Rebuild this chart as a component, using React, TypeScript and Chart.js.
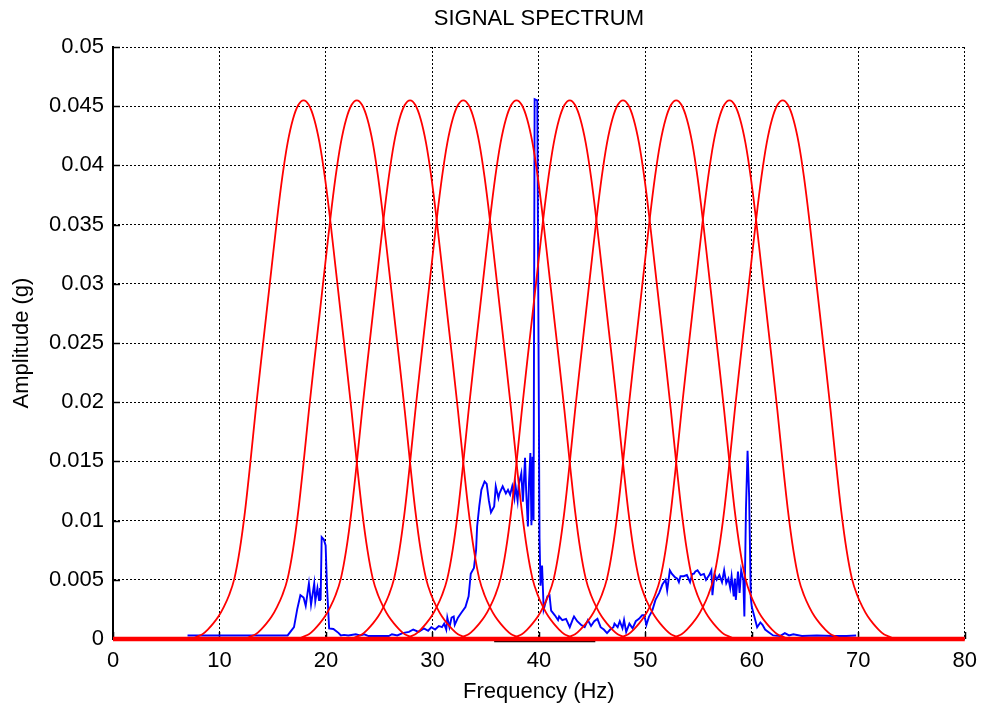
import React, { useEffect, useRef } from "react";
import { Chart, registerables } from "chart.js";

Chart.register(...registerables);

const TITLE = "SIGNAL SPECTRUM";
const X_LABEL = "Frequency (Hz)";
const Y_LABEL = "Amplitude (g)";

const X_TICK_LABELS = ["0", "10", "20", "30", "40", "50", "60", "70", "80"];
const Y_TICK_LABELS = ["0", "0.005", "0.01", "0.015", "0.02", "0.025", "0.03", "0.035", "0.04", "0.045", "0.05"];

// Filter bank (red): centre frequencies, and the bell shape (offset from centre, amplitude)
const FILTER_CENTERS = [17.9, 22.9, 27.9, 32.9, 37.9, 42.9, 47.9, 52.9, 57.9, 62.9];
const FILTER_OFFSETS = [0, 0.5, 1.0, 1.5, 2.0, 2.5, 3.0, 3.5, 4.0, 4.5, 5.0, 5.5, 6.0, 6.5, 7.0, 7.5, 8.0, 8.5, 9.0, 9.5, 10.0, 10.5];
const FILTER_AMPS = [0.0455, 0.0451, 0.0439, 0.0419, 0.039, 0.0354, 0.0314, 0.0274, 0.0234, 0.0193, 0.0149, 0.0108, 0.0075, 0.0051, 0.0037, 0.0027, 0.0019, 0.0013, 0.0008, 0.0004, 0.0002, 0];

// Signal spectrum (blue)
const SIGNAL_FREQ = [
  7.0, 16.4, 17.0, 17.3, 17.6, 17.9, 18.1, 18.4, 18.6, 18.9, 19.0, 19.2, 19.35, 19.44, 19.5, 19.6, 19.8, 19.97, 20.1, 20.3,
  20.7, 21.2, 21.4, 21.7, 22.1, 22.8, 23.2, 23.6, 24.0, 25.9, 26.2, 26.7, 27.2, 27.8, 28.2, 28.7, 29.2, 29.6, 29.9, 30.25,
  30.6, 30.9, 31.1, 31.3, 31.4, 31.6, 31.8, 32.0, 32.1, 32.4, 32.7, 33.1, 33.4, 33.6, 33.9, 34.1, 34.2, 34.4, 34.6, 34.9,
  35.1, 35.3, 35.5, 35.8, 35.95, 36.2, 36.3, 36.6, 36.9, 37.1, 37.3, 37.5, 37.7, 37.8, 38.0, 38.1, 38.35, 38.5, 38.7, 38.8,
  38.97, 39.07, 39.2, 39.3, 39.4, 39.5, 39.6, 39.85, 40.06, 40.15, 40.3, 40.45, 40.6, 40.8, 41.0, 41.15, 41.5, 41.8, 41.9, 42.2,
  42.55, 42.9, 43.2, 43.3, 43.6, 43.95, 44.3, 44.6, 44.9, 45.2, 45.5, 45.8, 46.1, 46.4, 46.7, 47.0, 47.1, 47.4, 47.6, 47.85,
  48.0, 48.2, 48.5, 48.8, 49.1, 49.4, 49.7, 49.9, 50.1, 50.35, 50.65, 50.95, 51.3, 51.6, 51.9, 52.05, 52.3, 52.5, 52.8, 53.0,
  53.15, 53.3, 53.6, 53.9, 54.2, 54.4, 54.55, 54.7, 54.9, 55.2, 55.5, 55.7, 56.0, 56.2, 56.3, 56.5, 56.7, 56.95, 57.2, 57.4,
  57.6, 57.8, 57.97, 58.1, 58.3, 58.4, 58.5, 58.7, 58.85, 59.0, 59.2, 59.3, 59.45, 59.6, 59.75, 59.9, 60.0, 60.15, 60.5, 60.8,
  61.0, 61.25, 61.55, 62.0, 62.65, 63.1, 63.5, 63.9, 64.7, 66.1, 67.6, 68.9, 69.8
];
const SIGNAL_AMP = [
  0.0003, 0.0003, 0.001, 0.0025, 0.0037, 0.0035, 0.0028, 0.0047, 0.0029, 0.0047, 0.0032, 0.0043, 0.0033, 0.0043, 0.0033, 0.0086, 0.0084, 0.0079, 0.0044, 0.0009,
  0.00085, 0.0005, 0.0003, 0.00035, 0.0003, 0.0004, 0.0003, 0.0004, 0.00025, 0.00025, 0.0004, 0.0003, 0.0005, 0.0006, 0.0008, 0.0006, 0.0009, 0.0007, 0.001, 0.0008,
  0.0011, 0.001, 0.0013, 0.0008, 0.0018, 0.001, 0.0018, 0.0019, 0.0012, 0.0018, 0.0022, 0.0027, 0.0036, 0.0055, 0.006, 0.0075, 0.0095, 0.0112, 0.0126, 0.0133,
  0.0131, 0.0117, 0.0107, 0.0112, 0.0129, 0.0119, 0.0123, 0.0129, 0.0123, 0.0126, 0.0122, 0.0129, 0.0119, 0.013, 0.0117, 0.013, 0.014, 0.0116, 0.0153, 0.0126,
  0.0095, 0.0132, 0.0157, 0.0096, 0.0154, 0.01, 0.0456, 0.0455, 0.0085, 0.0045, 0.0062, 0.0025, 0.003, 0.0036, 0.0037, 0.0024, 0.002, 0.0016, 0.0019, 0.0016,
  0.0017, 0.001, 0.0017, 0.0019, 0.0015, 0.0012, 0.001, 0.0016, 0.0011, 0.0015, 0.0017, 0.001, 0.0008, 0.0005, 0.0008, 0.001, 0.0013, 0.001, 0.0015, 0.0009,
  0.0016, 0.0006, 0.0013, 0.0009, 0.0015, 0.0017, 0.002, 0.002, 0.0012, 0.0019, 0.0024, 0.0033, 0.0039, 0.0046, 0.005, 0.0041, 0.0058, 0.0055, 0.0052, 0.0051,
  0.0048, 0.0053, 0.0053, 0.0054, 0.0048, 0.0055, 0.0055, 0.0057, 0.0058, 0.0054, 0.0055, 0.005, 0.0054, 0.0058, 0.0037, 0.0055, 0.005, 0.0054, 0.0048, 0.0058,
  0.0047, 0.0051, 0.0043, 0.0053, 0.0036, 0.0051, 0.0033, 0.0057, 0.0039, 0.0058, 0.005, 0.0019, 0.011, 0.0159, 0.012, 0.0035, 0.0027, 0.0022, 0.001, 0.0014,
  0.0012, 0.0008, 0.0006, 0.0003, 0.00025, 0.0005, 0.0003, 0.0004, 0.00025, 0.0003, 0.00025, 0.00025, 0.0003
];

// Baselines at the bottom of the plot
const RED_BASE_FREQ = [0, 80];
const RED_BASE_AMP = [0, 0];
const BLACK_BASE_FREQ = [35.8, 45.3];
const BLACK_BASE_AMP = [-0.0001, -0.0001];

const FONT = "'Liberation Sans', Arial, Helvetica, sans-serif";

function zip(xs: number[], ys: number[]) {
  return xs.map((x, i) => ({ x, y: ys[i] }));
}

function filterCurve(center: number) {
  const pts: { x: number; y: number }[] = [];
  for (let i = FILTER_OFFSETS.length - 1; i > 0; i--) {
    pts.push({ x: center - FILTER_OFFSETS[i], y: FILTER_AMPS[i] });
  }
  for (let i = 0; i < FILTER_OFFSETS.length; i++) {
    pts.push({ x: center + FILTER_OFFSETS[i], y: FILTER_AMPS[i] });
  }
  return pts;
}

// Inward (MATLAB-style) tick marks on the left and bottom axes
const inwardTicks = {
  id: "inwardTicks",
  beforeDatasetsDraw(chart: any) {
    const { ctx, chartArea, scales } = chart;
    const len = 7;
    ctx.save();
    ctx.strokeStyle = "#000";
    ctx.lineWidth = 1.5;
    ctx.setLineDash([]);
    ctx.beginPath();
    scales.y.ticks.forEach((t: any) => {
      const y = Math.round(scales.y.getPixelForValue(t.value)) + 0.5;
      ctx.moveTo(chartArea.left, y);
      ctx.lineTo(chartArea.left + len, y);
    });
    scales.x.ticks.forEach((t: any) => {
      const x = Math.round(scales.x.getPixelForValue(t.value)) + 0.5;
      ctx.moveTo(x, chartArea.bottom);
      ctx.lineTo(x, chartArea.bottom - len);
    });
    ctx.stroke();
    ctx.restore();
  },
};

export default function App() {
  const ref = useRef<HTMLCanvasElement>(null);

  useEffect(() => {
    const red = "#ff0000";
    const blue = "#0000ff";
    const datasets: any[] = [];
    FILTER_CENTERS.forEach((c) => {
      datasets.push({
        data: filterCurve(c),
        borderColor: red,
        borderWidth: 1.8,
        pointRadius: 0,
        cubicInterpolationMode: "monotone",
        fill: false,
        clip: false,
      });
    });
    datasets.push({
      data: zip(RED_BASE_FREQ, RED_BASE_AMP),
      borderColor: red,
      borderWidth: 4.5,
      pointRadius: 0,
      clip: false,
    });
    datasets.push({
      data: zip(SIGNAL_FREQ, SIGNAL_AMP),
      borderColor: blue,
      borderWidth: 1.9,
      pointRadius: 0,
      tension: 0,
      clip: false,
    });
    datasets.push({
      data: zip(BLACK_BASE_FREQ, BLACK_BASE_AMP),
      borderColor: "#000000",
      borderWidth: 4,
      pointRadius: 0,
      clip: false,
    });

    const chart = new Chart(ref.current!, {
      type: "line",
      data: { datasets },
      plugins: [inwardTicks],
      options: {
        animation: false,
        responsive: true,
        maintainAspectRatio: false,
        layout: { padding: { left: 0, right: 17, top: 0, bottom: 0 } },
        plugins: {
          legend: { display: false },
          tooltip: { enabled: false },
          title: {
            display: true,
            text: TITLE,
            color: "#000",
            fullSize: false,
            font: { family: FONT, size: 22, weight: "normal" },
            padding: { top: 6, bottom: 14.6 },
          },
        },
        scales: {
          x: {
            type: "linear",
            min: 0,
            max: 80,
            ticks: {
              stepSize: 10,
              color: "#000",
              font: { family: FONT, size: 22 },
              padding: 9,
              maxRotation: 0,
              callback: (_v: any, i: number) => X_TICK_LABELS[i],
            },
            grid: { color: "#000", lineWidth: 1, drawTicks: false },
            border: { display: true, color: "#000", width: 1, dash: [2, 2] },
            title: {
              display: true,
              text: X_LABEL,
              color: "#000",
              font: { family: FONT, size: 22 },
              padding: { top: 0, bottom: 9.5 },
            },
            afterFit: (s: any) => {
              s.height = 76;
            },
          },
          y: {
            type: "linear",
            min: 0,
            max: 0.05,
            ticks: {
              stepSize: 0.005,
              color: "#000",
              font: { family: FONT, size: 22 },
              padding: 9,
              callback: (_v: any, i: number) => Y_TICK_LABELS[i],
            },
            grid: { color: "#000", lineWidth: 1, drawTicks: false },
            border: { display: true, color: "#000", width: 2, dash: [2, 2] },
            title: {
              display: true,
              text: Y_LABEL,
              color: "#000",
              font: { family: FONT, size: 22 },
              padding: { top: 8.5, bottom: 0 },
            },
            afterFit: (s: any) => {
              s.width = 113;
            },
          },
        },
      },
    });
    return () => chart.destroy();
  }, []);

  return (
    <div style={{ position: "fixed", left: 0, top: 0, width: 986, height: 715, background: "#fff" }}>
      <canvas ref={ref} />
    </div>
  );
}
